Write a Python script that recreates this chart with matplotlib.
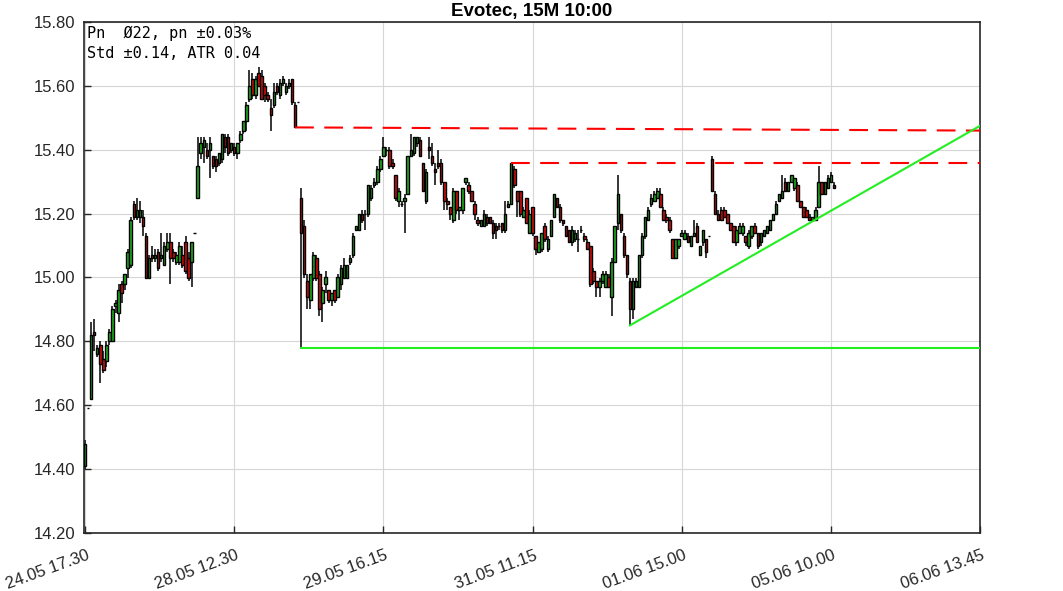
import matplotlib
matplotlib.use("Agg")
import matplotlib.pyplot as plt
import matplotlib.transforms as mtransforms
from matplotlib.ticker import MultipleLocator, FormatStrFormatter
import numpy as np

# --- datos 15M Evotec (OHLC) ---
opens = [
    14.41, 14.59, 14.62, 14.83, 14.76, 14.79, 14.745, 14.74, 14.80, 14.80,
    14.91, 14.89, 14.98, 14.98, 15.03, 15.04, 15.23, 15.19, 15.19, 15.19,
    15.13, 15.00, 15.07, 15.06, 15.08, 15.06, 15.04, 15.09, 15.11, 15.08,
    15.05, 15.05, 15.07, 15.11, 15.06, 15.05, 15.14,
    15.25, 15.39, 15.41, 15.40, 15.40, 15.38, 15.37, 15.36, 15.37, 15.44,
    15.44, 15.40, 15.41, 15.39, 15.43, 15.46, 15.49, 15.56, 15.62, 15.57,
    15.64, 15.63, 15.60, 15.57, 15.53, 15.54, 15.60, 15.57, 15.61, 15.58,
    15.60, 15.62, 15.54, 15.55,
    15.25, 15.16, 14.99, 14.93, 15.00, 15.06, 15.01, 14.92, 14.98, 14.96,
    14.93, 14.96, 14.94, 14.98, 15.00, 15.00, 15.05, 15.07, 15.15, 15.15,
    15.20, 15.20, 15.20, 15.25, 15.29, 15.30, 15.34, 15.38, 15.40, 15.40,
    15.36, 15.32, 15.24, 15.23, 15.24, 15.26, 15.38, 15.39,
    15.42, 15.43, 15.36, 15.24, 15.41, 15.38, 15.34, 15.36, 15.36, 15.30,
    15.24, 15.22, 15.18, 15.27, 15.21, 15.21, 15.30, 15.29, 15.27, 15.23,
    15.18, 15.16, 15.16, 15.19, 15.19, 15.17, 15.16, 15.16, 15.17, 15.15,
    15.22, 15.23, 15.34, 15.27, 15.27, 15.19, 15.25, 15.14,
    15.22, 15.13, 15.08, 15.09, 15.16, 15.09, 15.13, 15.19, 15.25, 15.22,
    15.18, 15.16, 15.15, 15.11, 15.12, 15.12, 15.15, 15.13, 15.11, 15.10,
    15.02, 14.99, 14.97, 14.99, 14.97, 15.00, 14.94, 15.05, 15.17, 15.20,
    15.13, 15.07, 14.99, 14.90, 14.97, 14.97,
    15.07, 15.13, 15.18, 15.23, 15.24, 15.25, 15.26, 15.21, 15.19, 15.18,
    15.12, 15.06, 15.10, 15.13, 15.12, 15.13, 15.10, 15.13, 15.16, 15.07,
    15.11, 15.12, 15.13, 15.37, 15.26, 15.20, 15.21, 15.21, 15.20, 15.17,
    15.16, 15.11, 15.14,
    15.14, 15.13, 15.10, 15.13, 15.16, 15.14, 15.11, 15.13, 15.14, 15.15,
    15.18, 15.20, 15.24, 15.25, 15.30, 15.27, 15.30, 15.28, 15.29, 15.24,
    15.22, 15.21, 15.19, 15.18, 15.18, 15.22, 15.30, 15.26, 15.28, 15.30,
    15.29,
]
highs = [
    14.49, 14.59, 14.86, 14.87, 14.79, 14.80, 14.77, 14.80, 14.84, 14.91,
    14.93, 14.98, 14.99, 15.01, 15.09, 15.19, 15.24, 15.25, 15.24, 15.21,
    15.14, 15.07, 15.10, 15.09, 15.09, 15.14, 15.11, 15.14, 15.14, 15.09,
    15.08, 15.11, 15.10, 15.13, 15.08, 15.11, 15.14,
    15.44, 15.44, 15.44, 15.42, 15.44, 15.38, 15.38, 15.39, 15.45, 15.45,
    15.45, 15.42, 15.42, 15.42, 15.46, 15.49, 15.55, 15.65, 15.64, 15.63,
    15.66, 15.65, 15.61, 15.58, 15.56, 15.61, 15.61, 15.62, 15.63, 15.61,
    15.62, 15.62, 15.55, 15.55,
    15.28, 15.18, 15.01, 15.01, 15.08, 15.07, 15.02, 14.97, 15.02, 14.96,
    14.95, 14.96, 15.01, 15.04, 15.06, 15.04, 15.07, 15.14, 15.16, 15.20,
    15.21, 15.21, 15.29, 15.29, 15.31, 15.35, 15.38, 15.44, 15.41, 15.41,
    15.37, 15.32, 15.28, 15.24, 15.26, 15.38, 15.45, 15.44,
    15.44, 15.44, 15.36, 15.34, 15.44, 15.42, 15.36, 15.40, 15.37, 15.30,
    15.25, 15.22, 15.28, 15.27, 15.22, 15.28, 15.31, 15.30, 15.27, 15.24,
    15.19, 15.18, 15.21, 15.20, 15.19, 15.18, 15.17, 15.17, 15.17, 15.24,
    15.24, 15.36, 15.35, 15.27, 15.27, 15.22, 15.25, 15.21,
    15.22, 15.13, 15.11, 15.14, 15.17, 15.13, 15.18, 15.26, 15.25, 15.23,
    15.18, 15.16, 15.15, 15.16, 15.15, 15.15, 15.16, 15.14, 15.12, 15.10,
    15.03, 14.99, 15.00, 15.02, 15.02, 15.01, 15.06, 15.16, 15.32, 15.20,
    15.14, 15.07, 15.00, 15.00, 15.00, 15.07,
    15.14, 15.19, 15.22, 15.26, 15.27, 15.28, 15.28, 15.22, 15.20, 15.19,
    15.12, 15.12, 15.12, 15.15, 15.15, 15.14, 15.13, 15.18, 15.17, 15.10,
    15.15, 15.12, 15.13, 15.38, 15.27, 15.21, 15.22, 15.22, 15.20, 15.17,
    15.16, 15.16, 15.17,
    15.17, 15.13, 15.15, 15.16, 15.17, 15.14, 15.14, 15.15, 15.16, 15.18,
    15.20, 15.24, 15.26, 15.32, 15.31, 15.30, 15.32, 15.31, 15.30, 15.24,
    15.22, 15.22, 15.20, 15.19, 15.22, 15.35, 15.30, 15.30, 15.32, 15.33,
    15.30,
]
lows = [
    14.40, 14.59, 14.62, 14.77, 14.75, 14.67, 14.70, 14.72, 14.79, 14.80,
    14.89, 14.86, 14.92, 14.96, 15.00, 15.03, 15.18, 15.18, 15.17, 15.13,
    15.00, 15.00, 15.05, 15.05, 15.02, 15.05, 15.04, 15.08, 14.98, 15.05,
    15.04, 15.04, 15.03, 15.01, 14.99, 14.97, 15.14,
    15.25, 15.37, 15.36, 15.37, 15.31, 15.34, 15.33, 15.35, 15.36, 15.39,
    15.38, 15.39, 15.38, 15.37, 15.42, 15.45, 15.46, 15.55, 15.56, 15.56,
    15.60, 15.56, 15.55, 15.55, 15.46, 15.53, 15.57, 15.56, 15.60, 15.57,
    15.59, 15.54, 15.47, 15.55,
    14.78, 15.00, 14.90, 14.90, 14.99, 14.99, 14.88, 14.86, 14.95, 14.92,
    14.91, 14.92, 14.94, 14.96, 15.00, 15.00, 15.04, 15.06, 15.15, 15.15,
    15.17, 15.15, 15.19, 15.24, 15.28, 15.29, 15.33, 15.38, 15.38, 15.34,
    15.34, 15.24, 15.22, 15.22, 15.14, 15.26, 15.38, 15.38,
    15.41, 15.38, 15.27, 15.23, 15.37, 15.35, 15.29, 15.34, 15.29, 15.21,
    15.21, 15.18, 15.17, 15.20, 15.18, 15.20, 15.29, 15.26, 15.24, 15.18,
    15.16, 15.16, 15.16, 15.16, 15.17, 15.12, 15.12, 15.15, 15.14, 15.14,
    15.22, 15.23, 15.28, 15.19, 15.19, 15.19, 15.17, 15.14,
    15.13, 15.07, 15.08, 15.08, 15.11, 15.08, 15.13, 15.19, 15.22, 15.17,
    15.16, 15.13, 15.11, 15.10, 15.11, 15.08, 15.14, 15.11, 15.09, 14.97,
    14.98, 14.94, 14.94, 14.98, 14.97, 14.97, 14.88, 15.05, 15.15, 15.14,
    15.06, 15.00, 14.85, 14.87, 14.97, 14.97,
    15.06, 15.12, 15.18, 15.22, 15.24, 15.25, 15.22, 15.18, 15.17, 15.14,
    15.06, 15.06, 15.09, 15.13, 15.12, 15.11, 15.10, 15.13, 15.11, 15.07,
    15.10, 15.06, 15.13, 15.27, 15.20, 15.18, 15.18, 15.19, 15.17, 15.15,
    15.11, 15.10, 15.14,
    15.13, 15.10, 15.09, 15.12, 15.14, 15.09, 15.10, 15.13, 15.14, 15.15,
    15.18, 15.20, 15.24, 15.25, 15.27, 15.27, 15.30, 15.27, 15.24, 15.22,
    15.19, 15.19, 15.18, 15.18, 15.18, 15.22, 15.26, 15.26, 15.28, 15.30,
    15.28,
]
closes = [
    14.48, 14.59, 14.82, 14.82, 14.78, 14.73, 14.71, 14.79, 14.83, 14.90,
    14.92, 14.96, 14.95, 15.01, 15.08, 15.18, 15.19, 15.21, 15.21, 15.16,
    15.00, 15.06, 15.06, 15.07, 15.03, 15.07, 15.10, 15.11, 15.06, 15.06,
    15.07, 15.10, 15.04, 15.02, 15.00, 15.11, 15.14,
    15.35, 15.42, 15.43, 15.38, 15.42, 15.35, 15.35, 15.39, 15.45, 15.41,
    15.39, 15.42, 15.39, 15.42, 15.45, 15.49, 15.54, 15.60, 15.57, 15.62,
    15.60, 15.56, 15.57, 15.56, 15.51, 15.58, 15.58, 15.61, 15.62, 15.60,
    15.61, 15.55, 15.47, 15.55,
    15.14, 15.01, 14.94, 15.01, 15.07, 15.00, 14.90, 14.96, 15.00, 14.93,
    14.95, 14.93, 15.00, 15.03, 15.04, 15.04, 15.06, 15.13, 15.16, 15.20,
    15.18, 15.20, 15.29, 15.28, 15.30, 15.34, 15.37, 15.41, 15.40, 15.35,
    15.35, 15.25, 15.27, 15.23, 15.25, 15.38, 15.40, 15.44,
    15.44, 15.38, 15.27, 15.33, 15.40, 15.36, 15.33, 15.35, 15.30, 15.24,
    15.23, 15.20, 15.27, 15.21, 15.22, 15.28, 15.31, 15.27, 15.24, 15.20,
    15.17, 15.18, 15.20, 15.17, 15.17, 15.14, 15.15, 15.16, 15.15, 15.20,
    15.23, 15.36, 15.29, 15.24, 15.20, 15.21, 15.17, 15.20,
    15.14, 15.09, 15.11, 15.14, 15.12, 15.12, 15.18, 15.26, 15.22, 15.18,
    15.17, 15.13, 15.11, 15.15, 15.14, 15.12, 15.15, 15.12, 15.09, 14.98,
    14.99, 14.97, 14.99, 15.01, 15.01, 14.97, 15.05, 15.16, 15.26, 15.15,
    15.07, 15.01, 14.90, 14.99, 14.99, 15.07,
    15.13, 15.19, 15.21, 15.25, 15.26, 15.27, 15.22, 15.18, 15.18, 15.15,
    15.06, 15.12, 15.12, 15.14, 15.14, 15.11, 15.13, 15.14, 15.11, 15.10,
    15.15, 15.08, 15.13, 15.27, 15.20, 15.18, 15.18, 15.19, 15.17, 15.15,
    15.11, 15.15, 15.16,
    15.16, 15.11, 15.14, 15.16, 15.14, 15.10, 15.14, 15.15, 15.16, 15.18,
    15.20, 15.23, 15.26, 15.27, 15.27, 15.30, 15.32, 15.31, 15.24, 15.22,
    15.19, 15.19, 15.18, 15.19, 15.21, 15.30, 15.26, 15.30, 15.31, 15.32,
    15.28,
]

etiquetas_x = ["24.05 17.30", "28.05 12.30", "29.05 16.15", "31.05 11.15",
               "01.06 15.00", "05.06 10.00", "06.06 13.45"]
BARRAS_TICK = 49

# lineas: (barra inicio, precio inicio, precio fin en el borde derecho)
resistencias = [(69, 15.47, 15.46), (140, 15.36, 15.36)]
soportes = [(71, 14.78, 14.78), (179, 14.85, 15.475)]

titulo = "Evotec, 15M 10:00"
info = "Pn  \u00d822, pn \u00b10.03%\nStd \u00b10.14, ATR 0.04"

VERDE = "#1fae1f"
ROJO = "#cf1010"

o = np.array(opens)
h = np.array(highs)
l = np.array(lows)
c = np.array(closes)
x = np.arange(len(o))
x_fin = BARRAS_TICK * (len(etiquetas_x) - 1)

plt.rcParams["font.family"] = ["Liberation Sans", "DejaVu Sans"]

fig = plt.figure(figsize=(10.63, 5.91), dpi=100)
ax = fig.add_axes([84 / 1063, 58 / 591, 896 / 1063, 511 / 591])

# velas
ax.vlines(x, l, h, color="black", lw=1.1, zorder=2)
sube = c >= o
colores = np.where(sube, VERDE, ROJO)
ax.bar(x, np.abs(c - o), bottom=np.minimum(o, c), width=0.82,
       color=colores, edgecolor="black", linewidth=1.0, zorder=3)

for x0, p0, p1 in resistencias:
    ax.plot([x0, x_fin], [p0, p1], color="#ff0000", lw=1.5,
            dashes=(9, 5), zorder=4)
for x0, p0, p1 in soportes:
    ax.plot([x0, x_fin], [p0, p1], color="#22ee22", lw=1.5, zorder=4)

ax.set_xlim(-0.35, x_fin)
ax.set_ylim(14.2, 15.8)
ax.yaxis.set_major_locator(MultipleLocator(0.2))
ax.yaxis.set_major_formatter(FormatStrFormatter("%.2f"))
pos_ticks = np.arange(len(etiquetas_x)) * BARRAS_TICK
ax.set_xticks(pos_ticks)
ax.set_xticklabels([])

# etiquetas del eje x giradas, puestas a mano bajo cada marca
trans = mtransforms.blended_transform_factory(ax.transData, ax.transAxes)
trans = trans + mtransforms.ScaledTranslation(4 / 100, -22 / 100, fig.dpi_scale_trans)
for px, txt in zip(pos_ticks, etiquetas_x):
    ax.text(px, 0, txt, transform=trans, rotation=20, ha="right", va="center",
            rotation_mode="anchor", fontsize=12, color="#262626")

ax.tick_params(direction="in", length=5, width=1, colors="#262626",
               labelsize=12, pad=6)
ax.grid(True, color="#d6d6d6", lw=0.8)
ax.set_axisbelow(True)
for s in ax.spines.values():
    s.set_color("#262626")
    s.set_linewidth(1.2)

ax.set_title(titulo, fontsize=13.5, fontweight="bold", pad=4)
ax.annotate(info, xy=(0, 1), xycoords="axes fraction", xytext=(2, -3),
            textcoords="offset points", va="top", ha="left",
            family="DejaVu Sans Mono", fontsize=11, linespacing=1.35)

plt.savefig("out.png", dpi=100)
print("Gráfico guardado en out.png")
